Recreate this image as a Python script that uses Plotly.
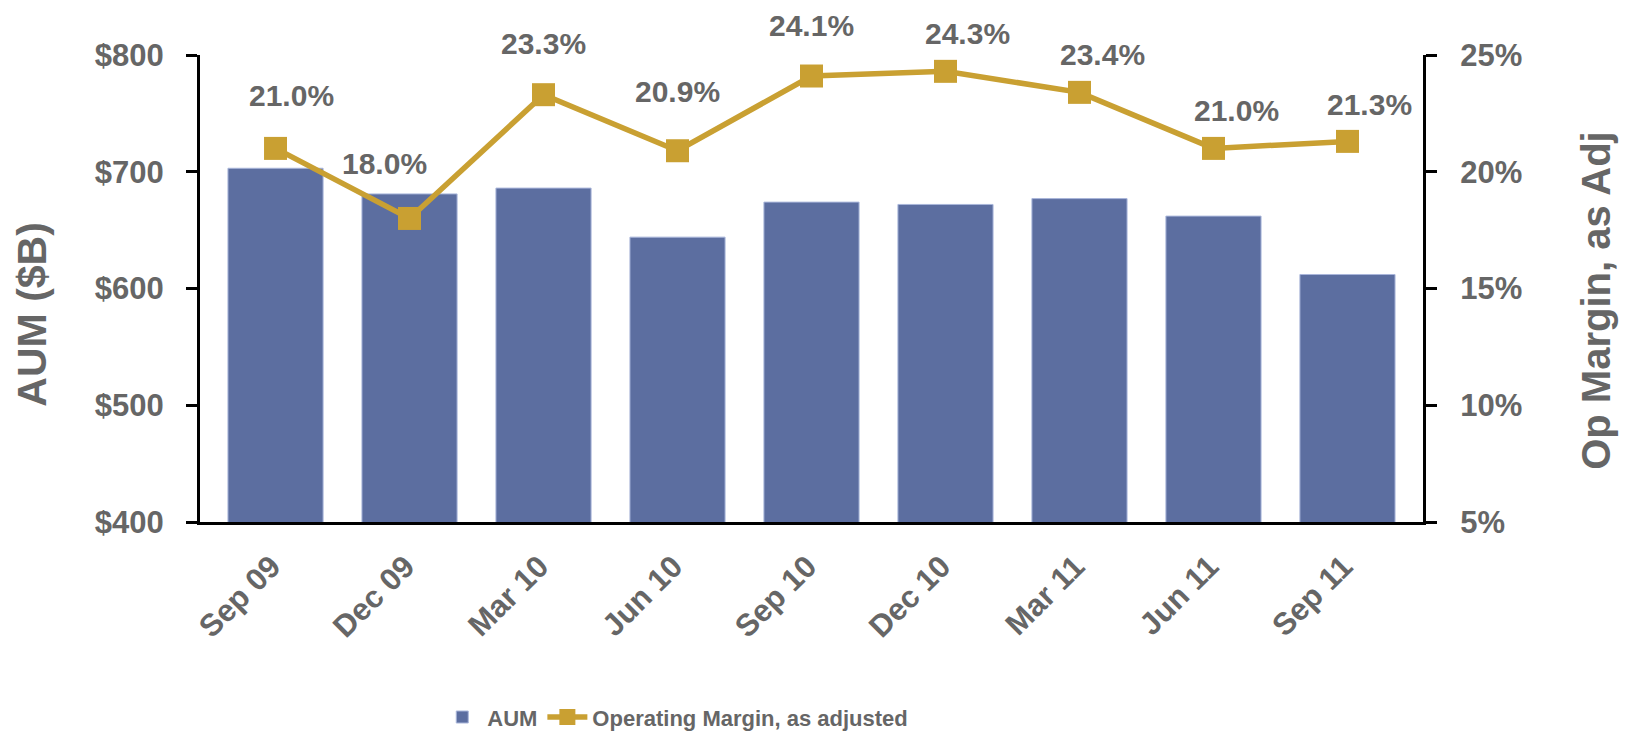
import plotly.graph_objects as go

categories = ["Sep 09", "Dec 09", "Mar 10", "Jun 10", "Sep 10", "Dec 10", "Mar 11", "Jun 11", "Sep 11"]
aum = [703, 681, 686, 644, 674, 672, 677, 662, 612]
margin = [21.0, 18.0, 23.3, 20.9, 24.1, 24.3, 23.4, 21.0, 21.3]
margin_labels = ["21.0%", "18.0%", "23.3%", "20.9%", "24.1%", "24.3%", "23.4%", "21.0%", "21.3%"]

grey = "#666666"
gold = "#C9A032"
blue = "#5C6EA0"
font_family = "Liberation Sans, Arial, sans-serif"

fig = go.Figure()

fig.add_trace(go.Bar(
    x=categories,
    y=aum,
    name="AUM",
    marker=dict(color=blue, line=dict(color="#A9B6DA", width=1)),
    yaxis="y",
))

fig.add_trace(go.Scatter(
    x=categories,
    y=margin,
    name="Operating Margin, as adjusted",
    mode="lines+markers",
    line=dict(color=gold, width=5.5),
    marker=dict(symbol="square", size=23, color=gold),
    yaxis="y2",
))

# label offsets (pixels) relative to each marker, as placed in the original
label_dx = [16, -25, 0, 0, 0, 22, 23, 23, 22]
label_dy = [53, 55, 51, 59, 51, 38, 38, 38, 37]

annotations = []
for i in range(len(categories)):
    annotations.append(dict(
        x=categories[i], y=margin[i], xref="x", yref="y2",
        text=margin_labels[i], showarrow=False,
        xshift=label_dx[i], yshift=label_dy[i],
        font=dict(size=30, color=grey, family=font_family, weight="bold"),
    ))

annotations.append(dict(
    x=-0.137, y=0.445, xref="paper", yref="paper", text="AUM ($B)",
    textangle=-90, showarrow=False, xanchor="center", yanchor="middle",
    font=dict(size=41, color=grey, family=font_family, weight="bold"),
))
annotations.append(dict(
    x=1.142, y=0.475, xref="paper", yref="paper", text="Op Margin, as Adj",
    textangle=-90, showarrow=False, xanchor="center", yanchor="middle",
    font=dict(size=40, color=grey, family=font_family, weight="bold"),
))

tick_font = dict(size=31, color=grey, family=font_family, weight="bold")

fig.update_layout(
    width=1631,
    height=739,
    # page body adds 8px, so margins are trimmed to land the plot where the original sits
    margin=dict(l=192, r=216, t=47, b=225, autoexpand=False),
    paper_bgcolor="white",
    plot_bgcolor="white",
    bargap=0.29,
    showlegend=True,
    legend=dict(
        orientation="h",
        x=0.194, y=-0.418, xanchor="left", yanchor="middle",
        font=dict(size=22, color=grey, family=font_family, weight="bold"),
        itemwidth=40,
    ),
    xaxis=dict(
        showline=True, linecolor="black", linewidth=3,
        tickangle=-45, tickfont=tick_font, ticks="",
        showgrid=False, automargin=False,
        ticklabelstandoff=11, ticklabelshift=-4,
    ),
    yaxis=dict(
        range=[400, 800], dtick=100, tickprefix="$",
        showline=True, linecolor="black", linewidth=3,
        ticks="outside", ticklen=11, tickwidth=3, tickcolor="black",
        tickfont=tick_font, showgrid=False, zeroline=False,
        ticklabelstandoff=16, automargin=False,
    ),
    yaxis2=dict(
        range=[5, 25], dtick=5, ticksuffix="%",
        overlaying="y", side="right",
        showline=True, linecolor="black", linewidth=3,
        ticks="outside", ticklen=11, tickwidth=3, tickcolor="black",
        tickfont=tick_font, showgrid=False, zeroline=False,
        ticklabelstandoff=17, automargin=False,
    ),
    annotations=annotations,
)

fig.write_html("out.html")
